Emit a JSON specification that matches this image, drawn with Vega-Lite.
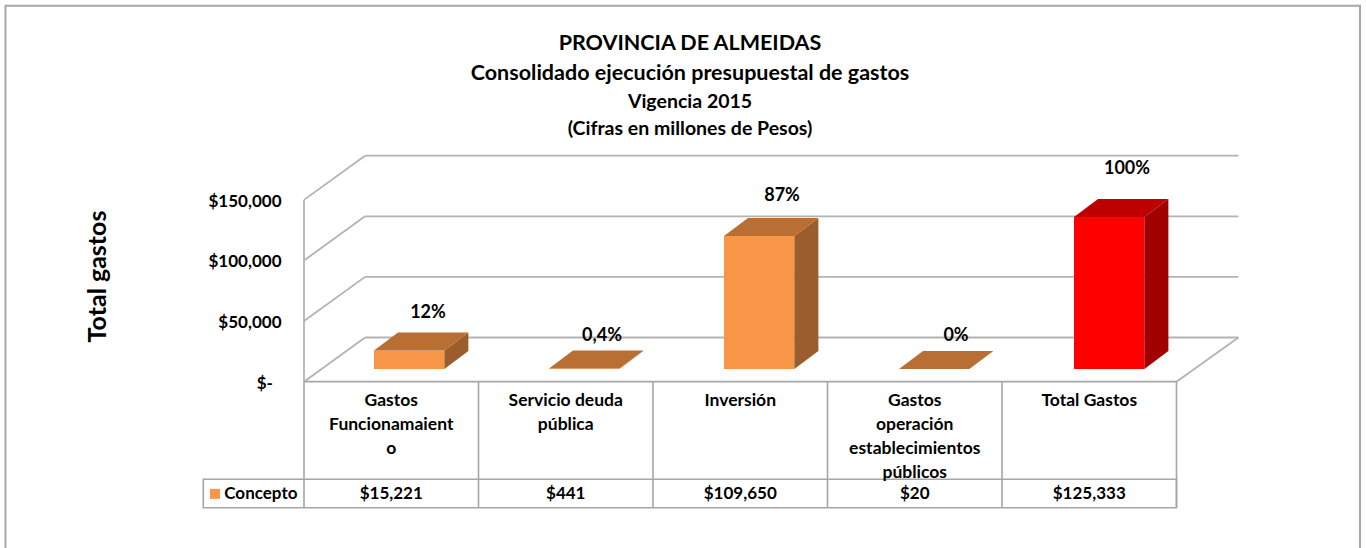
{
"$schema":"https://vega.github.io/schema/vega-lite/v6.json",
"width":1366,"height":548,"padding":0,"autosize":{"type":"none"},
"background":"white",
"config":{"font":"Lato","view":{"stroke":null}},
"title":{"text":["PROVINCIA DE ALMEIDAS","Consolidado ejecución presupuestal de gastos"],"subtitle":["Vigencia 2015","(Cifras en millones de Pesos)"],"anchor":"middle","dx":7,"offset":-138,"fontSize":21.5,"fontWeight":"bold","lineHeight":30,"color":"#000000","subtitleFontSize":19.5,"subtitleFontWeight":"bold","subtitleLineHeight":27,"subtitleColor":"#000000","subtitlePadding":8},
"datasets":{
"conceptos":[
{"idx":0,"concepto":"Gastos Funcionamaiento","etiqueta":["Gastos","Funcionamaient","o"],"valor":15221,"porcentaje":"12%","grupo":"Concepto"},
{"idx":1,"concepto":"Servicio deuda pública","etiqueta":["Servicio deuda","pública"],"valor":441,"porcentaje":"0,4%","grupo":"Concepto"},
{"idx":2,"concepto":"Inversión","etiqueta":["Inversión"],"valor":109650,"porcentaje":"87%","grupo":"Concepto"},
{"idx":3,"concepto":"Gastos operación establecimientos públicos","etiqueta":["Gastos","operación","establecimientos","públicos"],"valor":20,"porcentaje":"0%","grupo":"Concepto"},
{"idx":4,"concepto":"Total Gastos","etiqueta":["Total Gastos"],"valor":125333,"porcentaje":"100%","grupo":"Total"}
],
"niveles":[{"nivel":0},{"nivel":50000},{"nivel":100000},{"nivel":150000}],
"columnas":[{"col":0},{"col":1},{"col":2},{"col":3},{"col":4},{"col":5}],
"uno":[{"id":1,"cero":"$-"}]
},
"resolve":{"axis":{"x":"independent","y":"independent"}},
"layer":[
{"data":{"name":"uno"},"mark":{"type":"rect","fill":null,"stroke":"#a6a6a6","strokeWidth":2},
"encoding":{"x":{"datum":-1.7106,"type":"quantitative","scale":{"domain":[-1.7421,6.086],"nice":false,"zero":false},"axis":null},"x2":{"datum":6.0516},
"y":{"datum":310231,"type":"quantitative","scale":{"domain":[-137200,314900],"nice":false,"zero":false},"axis":null},
"y2":{"datum":-140000}}},
{"data":{"name":"niveles"},"transform":[{"calculate":"datum.nivel+36469","as":"fondo"}],"mark":{"type":"rule","stroke":"#b3b3b3","strokeWidth":1.8},
"encoding":{"x":{"datum":0,"type":"quantitative","scale":{"domain":[-1.7421,6.086],"nice":false,"zero":false},"axis":null},"x2":{"datum":0.35},
"y":{"field":"nivel","type":"quantitative","scale":{"domain":[-137200,314900],"nice":false,"zero":false},
"axis":{"orient":"left","offset":-304,"values":[50000,100000,150000],"format":"$,.0f","domain":false,"ticks":false,"grid":false,"labelPadding":23,"labelOffset":1.5,"labelFontSize":17,"labelFontWeight":"bold","labelColor":"#000000","labelFont":"Lato","title":"Total gastos","titleFontSize":25,"titleFontWeight":"bold","titleColor":"#000000","titleFont":"Lato","titleX":-207,"titleY":276,"titleAngle":-90,"titleAnchor":"middle","titleAlign":"center","titleBaseline":"middle","labelOverlap":false,"zindex":1}},"y2":{"field":"fondo"}}},
{"data":{"name":"uno"},"mark":{"type":"text","fontSize":17,"fontWeight":"bold","color":"#000000","align":"right","baseline":"middle","dy":2},
"encoding":{"x":{"datum":-0.178,"type":"quantitative","scale":{"domain":[-1.7421,6.086],"nice":false,"zero":false},"axis":null},
"y":{"datum":0,"type":"quantitative","scale":{"domain":[-137200,314900],"nice":false,"zero":false},"axis":null},"text":{"field":"cero"}}},
{"data":{"name":"niveles"},"transform":[{"calculate":"datum.nivel+36469","as":"fondo"}],"mark":{"type":"rule","stroke":"#b3b3b3","strokeWidth":1.8},
"encoding":{"x":{"datum":0.35,"type":"quantitative","scale":{"domain":[-1.7421,6.086],"nice":false,"zero":false},"axis":null},"x2":{"datum":5.355},
"y":{"field":"fondo","type":"quantitative","scale":{"domain":[-137200,314900],"nice":false,"zero":false},"axis":null}}},
{"data":{"name":"uno"},"mark":{"type":"rule","stroke":"#b3b3b3","strokeWidth":1.8},
"encoding":{"x":{"datum":5,"type":"quantitative","scale":{"domain":[-1.7421,6.086],"nice":false,"zero":false},"axis":null},"x2":{"datum":5.355},
"y":{"datum":0,"type":"quantitative","scale":{"domain":[-137200,314900],"nice":false,"zero":false},"axis":null},"y2":{"datum":36469}}},
{"data":{"name":"uno"},"mark":{"type":"rule","stroke":"#b3b3b3","strokeWidth":1.8},
"encoding":{"x":{"datum":0,"type":"quantitative","scale":{"domain":[-1.7421,6.086],"nice":false,"zero":false},"axis":null},
"y":{"datum":0,"type":"quantitative","scale":{"domain":[-137200,314900],"nice":false,"zero":false},"axis":null},"y2":{"datum":150000}}},
{"data":{"name":"columnas"},"mark":{"type":"rule","stroke":"#a6a6a6","strokeWidth":1.6},
"encoding":{"x":{"field":"col","type":"quantitative","scale":{"domain":[-1.7421,6.086],"nice":false,"zero":false},"axis":null},
"y":{"datum":0,"type":"quantitative","scale":{"domain":[-137200,314900],"nice":false,"zero":false},"axis":null},"y2":{"datum":-103960}}},
{"data":{"name":"uno"},"mark":{"type":"rule","stroke":"#a6a6a6","strokeWidth":1.8},
"encoding":{"x":{"datum":0,"type":"quantitative","scale":{"domain":[-1.7421,6.086],"nice":false,"zero":false},"axis":null},"x2":{"datum":5},
"y":{"datum":0,"type":"quantitative","scale":{"domain":[-137200,314900],"nice":false,"zero":false},"axis":null}}},
{"data":{"name":"uno"},"mark":{"type":"rect","fill":null,"stroke":"#a6a6a6","strokeWidth":1.6},
"encoding":{"x":{"datum":-0.5771,"type":"quantitative","scale":{"domain":[-1.7421,6.086],"nice":false,"zero":false},"axis":null},"x2":{"datum":5},
"y":{"datum":-80528,"type":"quantitative","scale":{"domain":[-137200,314900],"nice":false,"zero":false},"axis":null},"y2":{"datum":-103960}}},
{"data":{"name":"conceptos"},"transform":[
{"calculate":"0.4011+1.0029*datum.idx","as":"x0"},{"calculate":"datum.x0+0.4034","as":"x1"},{"calculate":"10480","as":"base"},{"calculate":"datum.base+datum.valor","as":"tope"},{"calculate":"datum.grupo+' frente'","as":"cara"}],
"mark":{"type":"rect"},
"encoding":{"x":{"field":"x0","type":"quantitative","scale":{"domain":[-1.7421,6.086],"nice":false,"zero":false},"axis":null},"x2":{"field":"x1"},
"y":{"field":"base","type":"quantitative","scale":{"domain":[-137200,314900],"nice":false,"zero":false},"axis":null},"y2":{"field":"tope"},
"color":{"field":"cara","type":"nominal","legend":null,"scale":{"domain":["Concepto frente","Concepto tapa","Concepto lado","Total frente","Total tapa","Total lado"],"range":["#F79646","#B96F34","#9A5D2B","#FF0000","#BF0000","#A00000"]}}}},
{"data":{"name":"conceptos"},"transform":[
{"calculate":"[0,1]","as":"d"},{"flatten":["d"]},
{"calculate":"0.4011+1.0029*datum.idx+0.4034+0.1375*datum.d","as":"xl"},{"calculate":"10480+14851*datum.d","as":"yb"},{"calculate":"10480+datum.valor+14851*datum.d","as":"yt"},{"calculate":"datum.grupo+' lado'","as":"cara"}],
"mark":{"type":"area","orient":"vertical","opacity":1},
"encoding":{"x":{"field":"xl","type":"quantitative","scale":{"domain":[-1.7421,6.086],"nice":false,"zero":false},"axis":null},
"y":{"field":"yb","type":"quantitative","stack":null,"scale":{"domain":[-137200,314900],"nice":false,"zero":false},"axis":null},"y2":{"field":"yt"},
"detail":{"field":"concepto"},
"color":{"field":"cara","type":"nominal","legend":null,"scale":{"domain":["Concepto frente","Concepto tapa","Concepto lado","Total frente","Total tapa","Total lado"],"range":["#F79646","#B96F34","#9A5D2B","#FF0000","#BF0000","#A00000"]}}}},
{"data":{"name":"conceptos"},"transform":[
{"calculate":"[0,1]","as":"d"},{"flatten":["d"]},
{"calculate":"0.4011+1.0029*datum.idx+0.1375*datum.d","as":"xa"},{"calculate":"datum.xa+0.4034","as":"xb"},{"calculate":"10480+datum.valor+14851*datum.d","as":"yt"},{"calculate":"datum.grupo+' tapa'","as":"cara"}],
"mark":{"type":"area","orient":"horizontal","opacity":1},
"encoding":{"y":{"field":"yt","type":"quantitative","scale":{"domain":[-137200,314900],"nice":false,"zero":false},"axis":null},
"x":{"field":"xa","type":"quantitative","stack":null,"scale":{"domain":[-1.7421,6.086],"nice":false,"zero":false},"axis":null},"x2":{"field":"xb"},
"detail":{"field":"concepto"},
"color":{"field":"cara","type":"nominal","legend":null,"scale":{"domain":["Concepto frente","Concepto tapa","Concepto lado","Total frente","Total tapa","Total lado"],"range":["#F79646","#B96F34","#9A5D2B","#FF0000","#BF0000","#A00000"]}}}},
{"data":{"name":"conceptos"},"transform":[
{"calculate":"0.4011+1.0029*datum.idx+[54,53,58,57,53][datum.idx]/174.5","as":"xp"},
{"calculate":"10480+datum.valor+14851+[20,14,22,15,30][datum.idx]*825","as":"yp"}],
"mark":{"type":"text","fontSize":18,"fontWeight":"bold","color":"#000000","align":"center","baseline":"middle"},
"encoding":{"x":{"field":"xp","type":"quantitative","scale":{"domain":[-1.7421,6.086],"nice":false,"zero":false},"axis":null},
"y":{"field":"yp","type":"quantitative","scale":{"domain":[-137200,314900],"nice":false,"zero":false},"axis":null},"text":{"field":"porcentaje"}}},
{"data":{"name":"conceptos"},"transform":[{"calculate":"datum.idx+0.5","as":"xc"}],
"mark":{"type":"text","fontSize":17.5,"fontWeight":"bold","color":"#000000","align":"center","baseline":"middle","lineHeight":24},
"encoding":{"x":{"field":"xc","type":"quantitative","scale":{"domain":[-1.7421,6.086],"nice":false,"zero":false},"axis":null},
"y":{"datum":-15900,"type":"quantitative","scale":{"domain":[-137200,314900],"nice":false,"zero":false},"axis":null},"text":{"field":"etiqueta"}}},
{"data":{"name":"conceptos"},"transform":[{"calculate":"datum.idx+0.5","as":"xc"}],
"mark":{"type":"text","fontSize":17,"fontWeight":"bold","color":"#000000","align":"center","baseline":"middle"},
"encoding":{"x":{"field":"xc","type":"quantitative","scale":{"domain":[-1.7421,6.086],"nice":false,"zero":false},"axis":null},
"y":{"datum":-92500,"type":"quantitative","scale":{"domain":[-137200,314900],"nice":false,"zero":false},"axis":null},"text":{"field":"valor","type":"quantitative","format":"$,.0f"}}},
{"data":{"name":"conceptos"},"transform":[{"filter":"datum.idx==0"}],
"mark":{"type":"square","size":100,"opacity":1,"color":"#F79646"},
"encoding":{"x":{"datum":-0.51,"type":"quantitative","scale":{"domain":[-1.7421,6.086],"nice":false,"zero":false},"axis":null},
"y":{"datum":-92500,"type":"quantitative","scale":{"domain":[-137200,314900],"nice":false,"zero":false},"axis":null}}},
{"data":{"name":"conceptos"},"transform":[{"filter":"datum.idx==0"}],
"mark":{"type":"text","fontSize":17,"fontWeight":"bold","color":"#000000","align":"left","baseline":"middle"},
"encoding":{"x":{"datum":-0.4567,"type":"quantitative","scale":{"domain":[-1.7421,6.086],"nice":false,"zero":false},"axis":null},
"y":{"datum":-92500,"type":"quantitative","scale":{"domain":[-137200,314900],"nice":false,"zero":false},"axis":null},"text":{"field":"grupo"}}}
]
}
